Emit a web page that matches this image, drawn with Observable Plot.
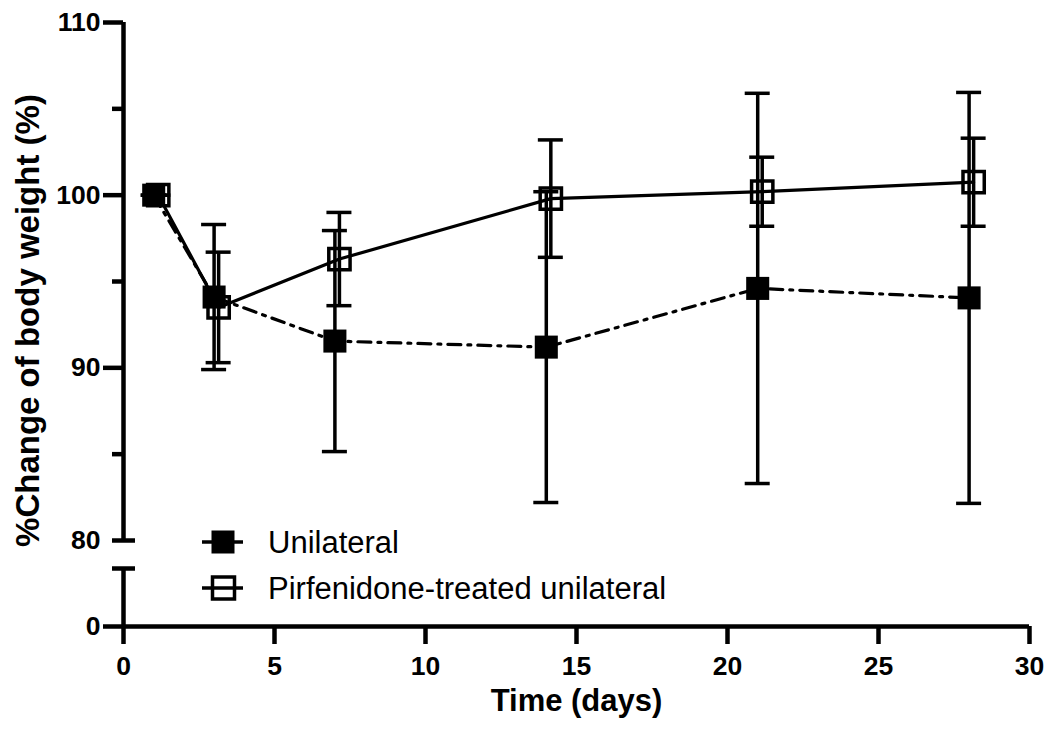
<!DOCTYPE html>
<html><head><meta charset="utf-8">
<script src="https://cdn.jsdelivr.net/npm/d3@7"></script>
<script src="https://cdn.jsdelivr.net/npm/@observablehq/plot@0.6"></script>
<style>
html,body{margin:0;padding:0;background:#fff;}
#wrap{position:relative;width:1048px;height:730px;font-family:"Liberation Sans",Arial,sans-serif;}
#legend{position:absolute;left:0;top:0;pointer-events:none;}
</style></head><body>
<div id="wrap"><div id="chart"></div><svg id="legend" width="1048" height="730"></svg></div>
<script>
// ---- data ----
const days = [1, 3, 7, 14, 21, 28];
const pirfNudge = 0.15; // horizontal nudge of second series (as in original)
const unilateralMean = [100, 94.1, 91.55, 91.2, 94.6, 94.05];
const unilateralErr  = [0, 4.2, 6.4, 9.0, 11.3, 11.9];
const pirfMean = [100, 93.5, 96.3, 99.8, 100.2, 100.75];
const pirfErr  = [0, 3.2, 2.7, 3.4, 2.0, 2.55];
const seriesNames = ["Unilateral", "Pirfenidone-treated unilateral"];
const xTicks = [0, 5, 10, 15, 20, 25, 30];
const yMajorTicks = [0, 90, 100, 110];
const yMinorTicks = [85, 95, 105];
const yBreakLabel = [80];
const yDomain = [0, 10, 80, 110];   // broken axis: 0–10 | 80–110
const axisSegments = [{lo: 0, hi: 10}, {lo: 80, hi: 110}];

const uni = days.map((d, i) => ({x: d, mean: unilateralMean[i], lo: unilateralMean[i] - unilateralErr[i], hi: unilateralMean[i] + unilateralErr[i]}));
const pirf = days.map((d, i) => ({x: d + pirfNudge, mean: pirfMean[i], lo: pirfMean[i] - pirfErr[i], hi: pirfMean[i] + pirfErr[i]}));

const SW = 4.5;
const font = {fontSize: 26.5, fontWeight: "bold"};

const chart = Plot.plot({
  width: 1048, height: 730,
  marginLeft: 123, marginRight: 19, marginTop: 22, marginBottom: 104,
  style: {fontFamily: '"Liberation Sans", Arial, sans-serif', background: "white", color: "black"},
  x: {domain: [0, 30]},
  y: {type: "linear", domain: yDomain, range: [626, 568, 540, 22]},
  marks: [
    // axis lines
    Plot.ruleX(axisSegments, {x: () => 0, y1: "lo", y2: "hi", strokeWidth: SW}),
    Plot.ruleY(axisSegments.map(s => ({y: s.lo === 0 ? s.hi : s.lo})), {y: "y", x1: () => 0, x2: () => 0, insetLeft: -11, insetRight: -12, strokeWidth: SW}),
    Plot.ruleY([{y: 0}], {y: "y", x1: () => 0, x2: () => 30, strokeWidth: SW}),
    Plot.axisX({ticks: xTicks, tickSize: 18, tickPadding: 12, strokeWidth: SW, ...font, label: null}),
    Plot.axisY({ticks: yMajorTicks, tickSize: 20, tickPadding: 3, strokeWidth: SW, ...font, label: null}),
    Plot.axisY({ticks: yBreakLabel, tickSize: 0, tickPadding: 23, ...font, label: null}),
    Plot.axisY({ticks: yMinorTicks, tickSize: 11, strokeWidth: SW, tickFormat: () => "", label: null}),
    // titles
    Plot.text(["Time (days)"], {frameAnchor: "bottom", dy: 84, fontSize: 31, fontWeight: "bold"}),
    Plot.text(["%Change of body weight (%)"], {frameAnchor: "left", textAnchor: "middle", dx: -95, dy: -4, rotate: -90, fontSize: 33, fontWeight: "bold"}),
    // lines
    Plot.line(uni, {x: "x", y: "mean", strokeWidth: 3.2, strokeDasharray: "13,7,3,7"}),
    Plot.line(pirf, {x: "x", y: "mean", strokeWidth: 3.2}),
    // error bars
    Plot.ruleX(pirf, {x: "x", y1: "lo", y2: "hi", strokeWidth: 3.5}),
    Plot.ruleY(pirf, {y: "hi", x1: "x", x2: "x", insetLeft: -12.5, insetRight: -12.5, strokeWidth: 3.5}),
    Plot.ruleY(pirf, {y: "lo", x1: "x", x2: "x", insetLeft: -12.5, insetRight: -12.5, strokeWidth: 3.5}),
    Plot.ruleX(uni, {x: "x", y1: "lo", y2: "hi", strokeWidth: 3.5}),
    Plot.ruleY(uni, {y: "hi", x1: "x", x2: "x", insetLeft: -12.5, insetRight: -12.5, strokeWidth: 3.5}),
    Plot.ruleY(uni, {y: "lo", x1: "x", x2: "x", insetLeft: -12.5, insetRight: -12.5, strokeWidth: 3.5}),
    // markers
    Plot.dot(pirf, {x: "x", y: "mean", symbol: "square", r: 12, fill: "none", stroke: "black", strokeWidth: 3.5}),
    Plot.dot(uni, {x: "x", y: "mean", symbol: "square", r: 13, fill: "black"})
  ]
});
document.getElementById("chart").appendChild(chart);

// legend
const lg = d3.select("#legend");
seriesNames.forEach((name, i) => {
  const cy = 542 + i * 46;
  const g = lg.append("g");
  g.append("line").attr("x1", 202).attr("x2", 243).attr("y1", cy).attr("y2", cy).attr("stroke", "black").attr("stroke-width", 3.5);
  if (i === 0) g.append("rect").attr("x", 211.5).attr("y", cy - 11.5).attr("width", 23).attr("height", 23).attr("fill", "black");
  else g.append("rect").attr("x", 212.5).attr("y", cy - 11).attr("width", 22).attr("height", 22).attr("fill", "none").attr("stroke", "black").attr("stroke-width", 3.5);
  g.append("text").attr("x", 268).attr("y", cy).attr("dy", "0.35em").attr("font-size", 31).attr("font-family", '"Liberation Sans", Arial, sans-serif').text(name);
});
</script>
</body></html>
